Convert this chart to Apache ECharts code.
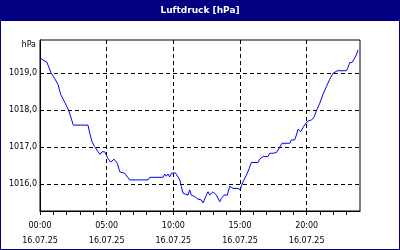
<!DOCTYPE html>
<html><head><meta charset="utf-8">
<script src="https://cdn.jsdelivr.net/npm/echarts@6/dist/echarts.min.js"></script>
<style>html,body{margin:0;padding:0;background:#fff}#c{width:400px;height:250px}</style>
</head><body><div id="c"></div>
<script>
const chartTitle = 'Luftdruck [hPa]';
const unitLabel = 'hPa';
const dateLabel = '16.07.25';
const timeLabels = ['00:00', '05:00', '10:00', '15:00', '20:00'];
const yTickValues = [1016, 1017, 1018, 1019];

const hours = [
  0.0, 0.22, 0.52, 0.6, 0.85, 1.1, 1.35, 1.55, 1.85, 2.15, 2.35, 2.5, 3.6, 3.73, 3.9, 4.1,
  4.35, 4.5, 4.65, 4.85, 5.1, 5.3, 5.55, 5.8, 5.98, 6.05, 6.35, 6.73, 8.1, 8.23, 9.23, 9.35,
  9.47, 9.6, 9.73, 9.85, 10.15, 10.35, 10.48, 10.6, 10.73, 11.1, 11.23, 11.35, 11.6, 11.85, 12.1, 12.23,
  12.48, 12.6, 12.73, 12.98, 13.23, 13.48, 13.6, 13.8, 14.05, 14.23, 14.35, 14.48, 14.85, 15.02, 15.1, 15.23,
  15.48, 15.65, 15.85, 16.35, 16.48, 16.73, 17.1, 17.23, 17.48, 17.6, 17.73, 17.98, 18.15, 18.73, 18.85, 19.1,
  19.23, 19.35, 19.55, 19.73, 19.9, 20.1, 20.35, 20.55, 20.73, 20.98, 21.23, 21.48, 21.73, 21.98, 22.3, 22.98,
  23.1, 23.23, 23.4, 23.55, 23.73, 23.85
];
const pressure = [
  1019.43, 1019.36, 1019.30, 1019.22, 1019.00, 1018.86, 1018.70, 1018.43, 1018.22, 1018.00, 1017.77, 1017.60, 1017.60, 1017.38, 1017.15, 1017.02,
  1016.88, 1016.81, 1016.88, 1016.88, 1016.70, 1016.60, 1016.68, 1016.57, 1016.34, 1016.30, 1016.30, 1016.12, 1016.12, 1016.19, 1016.19, 1016.28,
  1016.22, 1016.28, 1016.20, 1016.30, 1016.31, 1016.20, 1016.12, 1015.94, 1015.76, 1015.71, 1015.85, 1015.71, 1015.67, 1015.60, 1015.58, 1015.50,
  1015.71, 1015.80, 1015.71, 1015.80, 1015.71, 1015.53, 1015.62, 1015.71, 1015.71, 1015.95, 1016.00, 1015.89, 1015.89, 1015.85, 1015.95, 1016.07,
  1016.25, 1016.39, 1016.59, 1016.59, 1016.68, 1016.75, 1016.75, 1016.84, 1016.84, 1016.88, 1016.86, 1017.00, 1017.11, 1017.11, 1017.20, 1017.20,
  1017.33, 1017.49, 1017.42, 1017.54, 1017.63, 1017.71, 1017.74, 1017.81, 1017.99, 1018.19, 1018.44, 1018.64, 1018.84, 1019.00, 1019.07, 1019.07,
  1019.16, 1019.29, 1019.29, 1019.38, 1019.50, 1019.63
];

const FONT = 'DejaVu Sans';
const chart = echarts.init(document.getElementById('c'), null, {renderer: 'canvas'});
const gridColors = [];
for (let i = 0; i <= 24; i++) gridColors.push(i % 5 === 0 ? '#000' : 'rgba(0,0,0,0)');

chart.setOption({
  animation: false,
  backgroundColor: '#fff',
  grid: {left: 40, right: 40, top: 40, bottom: 39, show: true, borderColor: '#000', borderWidth: 1, backgroundColor: 'transparent'},
  graphic: [
    {type: 'rect', left: 0, top: 0, shape: {x: 0, y: 0, width: 400, height: 21}, style: {fill: '#000080'}, z: 10},
    {type: 'rect', shape: {x: 0.5, y: 0.5, width: 399, height: 249}, style: {fill: null, stroke: '#000080', lineWidth: 1}, z: 10},
    {type: 'text', x: 200, y: 10.5, z: 11, style: {text: chartTitle, fill: '#fff', font: 'bold 9px "DejaVu Sans"', align: 'center', verticalAlign: 'middle'}},
    {type: 'text', x: 36, y: 44.5, z: 11, style: {text: unitLabel, fill: '#000', font: '8px "DejaVu Sans"', align: 'right', verticalAlign: 'middle'}}
  ],
  xAxis: {
    type: 'value', min: 0, max: 24, interval: 1,
    axisLine: {show: true, lineStyle: {color: '#000', width: 1}},
    axisTick: {show: true, length: 4, lineStyle: {color: '#000'}},
    axisLabel: {
      show: true, margin: 7, color: '#000', fontFamily: FONT, fontSize: 8, lineHeight: 15,
      showMaxLabel: false,
      formatter: function (v) {
        const idx = v / 5;
        return (v % 5 === 0 && idx < timeLabels.length) ? timeLabels[idx] + '\n' + dateLabel : '';
      }
    },
    splitLine: {show: true, lineStyle: {color: gridColors, type: [4, 3], width: 1}}
  },
  yAxis: {
    type: 'value', min: 1015.28, max: 1019.9,
    axisLine: {show: true, lineStyle: {color: '#000', width: 1}},
    axisTick: {show: false, customValues: yTickValues},
    axisLabel: {
      show: true, margin: 3, color: '#000', fontFamily: FONT, fontSize: 8,
      customValues: yTickValues,
      formatter: function (v) { return v.toFixed(1).replace('.', ','); }
    },
    splitLine: {show: true, lineStyle: {color: '#000', type: [4, 3], width: 1}}
  },
  series: [{
    type: 'line',
    data: hours.map(function (h, i) { return [h, pressure[i]]; }),
    showSymbol: false, symbol: 'none',
    lineStyle: {color: '#0000ff', width: 1},
    smooth: false
  }]
});
</script>
</body></html>
